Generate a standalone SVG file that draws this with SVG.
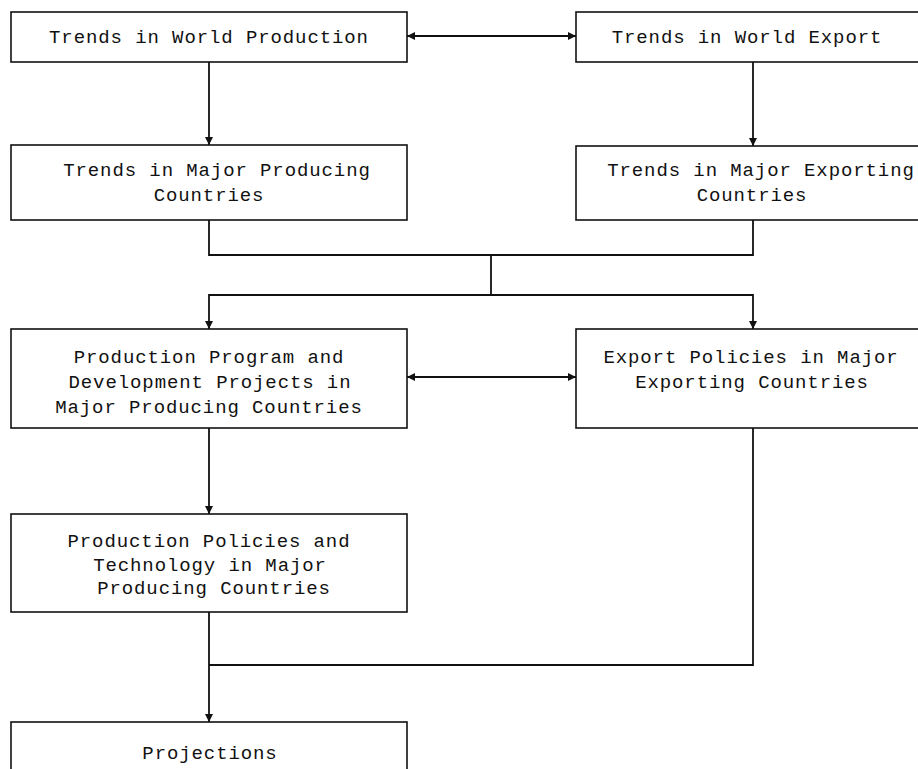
<svg xmlns="http://www.w3.org/2000/svg" width="918" height="769" viewBox="0 0 918 769">
<style>
.box{fill:#fff;stroke:#111;stroke-width:1.6}
.t{font-family:"Liberation Mono","Courier New",monospace;font-size:19px;letter-spacing:0.9px;fill:#111;text-anchor:middle}
.c{fill:none;stroke:#111;stroke-width:1.8}
</style>
<defs>
<marker id="ah" viewBox="0 0 10 10" refX="10" refY="5" markerWidth="8" markerHeight="8" markerUnits="userSpaceOnUse" orient="auto-start-reverse">
<path d="M0,0 L10,5 L0,10 z" fill="#111"/>
</marker>
</defs>
<rect width="918" height="769" fill="#fff"/>
<g id="connectors">
<path class="c" d="M407,36 H576" marker-start="url(#ah)" marker-end="url(#ah)"/>
<path class="c" d="M209,62 V145" marker-end="url(#ah)"/>
<path class="c" d="M753,62 V146" marker-end="url(#ah)"/>
<path class="c" d="M209,220 V255 H753 V220"/>
<path class="c" d="M491,255 V295"/>
<path class="c" d="M209,329 V295 H753 V329" marker-start="url(#ah)" marker-end="url(#ah)"/>
<path class="c" d="M407,377 H576" marker-start="url(#ah)" marker-end="url(#ah)"/>
<path class="c" d="M209,428 V514" marker-end="url(#ah)"/>
<path class="c" d="M753,428 V665 H209"/>
<path class="c" d="M209,612 V722" marker-end="url(#ah)"/>
</g>
<g id="n1"><rect class="box" x="11" y="12" width="396" height="50"/><text class="t" x="209" y="43">Trends in World Production</text></g>
<g id="n2"><rect class="box" x="576" y="12" width="360" height="50"/><text class="t" x="747" y="43">Trends in World Export</text></g>
<g id="n3"><rect class="box" x="11" y="145" width="396" height="75"/><text class="t" x="217" y="176">Trends in Major Producing</text><text class="t" x="209" y="201">Countries</text></g>
<g id="n4"><rect class="box" x="576" y="146" width="360" height="74"/><text class="t" x="761" y="176">Trends in Major Exporting</text><text class="t" x="752" y="201">Countries</text></g>
<g id="n5"><rect class="box" x="11" y="329" width="396" height="99"/><text class="t" x="209" y="363">Production Program and</text><text class="t" x="210" y="388">Development Projects in</text><text class="t" x="209" y="413">Major Producing Countries</text></g>
<g id="n6"><rect class="box" x="576" y="329" width="360" height="99"/><text class="t" x="751" y="363">Export Policies in Major</text><text class="t" x="752" y="388">Exporting Countries</text></g>
<g id="n7"><rect class="box" x="11" y="514" width="396" height="98"/><text class="t" x="209" y="547">Production Policies and</text><text class="t" x="210" y="571">Technology in Major</text><text class="t" x="214" y="594">Producing Countries</text></g>
<g id="n8"><rect class="box" x="11" y="722" width="396" height="70"/><text class="t" x="210" y="759">Projections</text></g>
</svg>
